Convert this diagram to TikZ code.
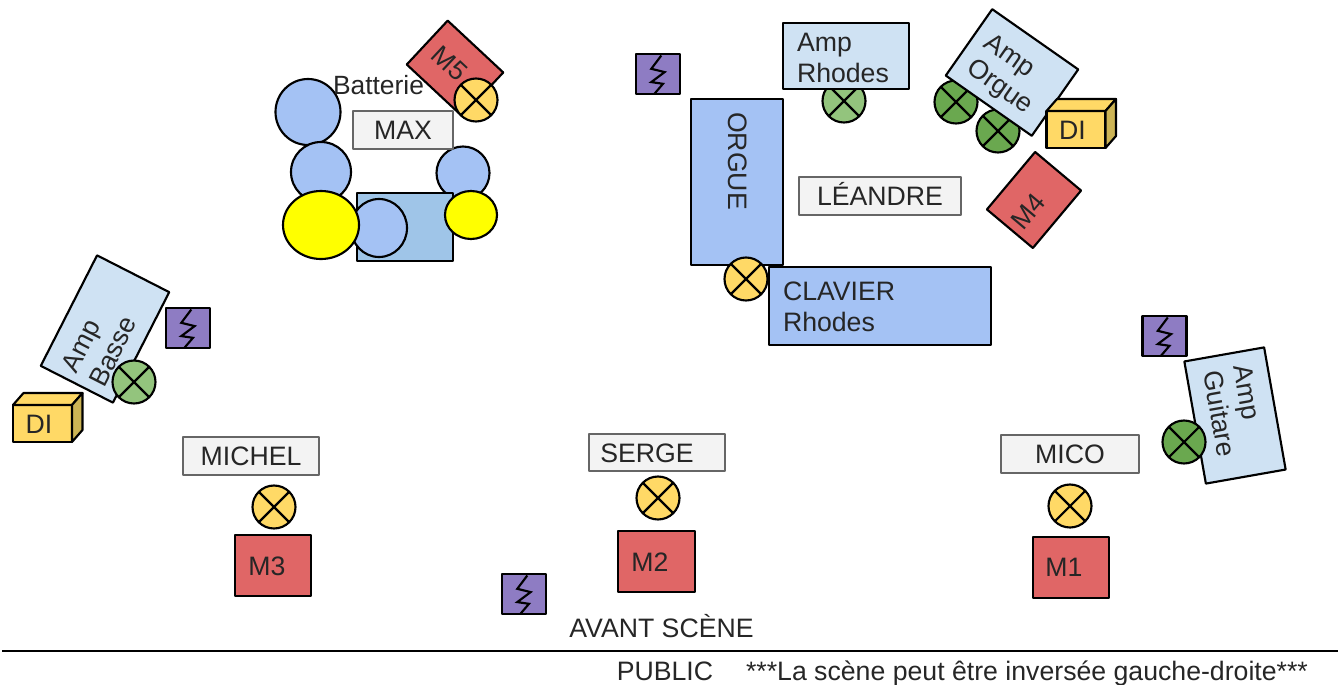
\documentclass[tikz,border=0pt]{standalone}
\usepackage{fontspec}
\setmainfont{Liberation Sans}
\usetikzlibrary{shapes.geometric}
\definecolor{inkc}{HTML}{262626}
\definecolor{redc}{HTML}{E06666}
\definecolor{purplec}{HTML}{8E7CC3}
\definecolor{bluec}{HTML}{A4C2F4}
\definecolor{ampc}{HTML}{CFE2F3}
\definecolor{drumboxc}{HTML}{9FC5E8}
\definecolor{orangec}{HTML}{FFD966}
\definecolor{lgreenc}{HTML}{93C47D}
\definecolor{dgreenc}{HTML}{6AA84F}
\definecolor{disidec}{HTML}{CCB455}
\definecolor{labelc}{HTML}{F3F3F3}
\definecolor{labeledge}{HTML}{666666}
\definecolor{cymbalc}{RGB}{255,255,0}
\tikzset{
  x=0.75pt,y=-0.75pt,
  wh/.style 2 args={minimum width=#1*0.75pt,minimum height=#2*0.75pt},
  base/.style={draw=black,line width=1.6pt,inner sep=0pt,outer sep=0pt,text=inkc,line join=round,
    font=\fontsize{20pt}{23.3pt}\selectfont},
  txt/.style={inner sep=0pt,outer sep=0pt,text=inkc,align=left,font=\fontsize{20pt}{23.3pt}\selectfont},
  captxt/.style={txt,text height=14.3pt,text depth=0pt},
  labelbox/.style={base,draw=labeledge,fill=labelc,text height=14.3pt,text depth=0pt},
  monbox/.style={base,fill=redc},
  ampbox/.style={base,fill=ampc},
  kbbox/.style={base,fill=bluec},
  plugbox/.style={base,fill=purplec,wh={44}{40}},
  drum/.style={base,ellipse,fill=bluec},
  cymbal/.style={base,ellipse,fill=cymbalc},
  mic/.style={base,circle,minimum size=#1*0.75pt},
  mic/.default=43,
  micorange/.style={mic,fill=orangec,xcross},
  miclgreen/.style={mic,fill=lgreenc,xcross},
  micdgreen/.style={mic,fill=dgreenc,xcross},
  xcross/.style={path picture={
    \draw[line width=1.6pt] (path picture bounding box.north west)--(path picture bounding box.south east);
    \draw[line width=1.6pt] (path picture bounding box.north east)--(path picture bounding box.south west);}},
  difront/.style={base,fill=orangec,wh={59}{37}},
  wire/.style={line width=1.6pt,line join=miter},
}
% zigzag drawn inside a named plug box
\newcommand{\zigzag}[1]{\draw[wire] ([shift={(3.3,-18.5)}]#1.center) -- ++(-10,13.3) -- ++(13.3,3.3) -- ++(-13.3,10) -- ++(11.7,1.7) -- ++(-8.3,9.7);}
% DI box: #1 node name, #2 centre of front face
\newcommand{\dibox}[2]{%
  \node[difront] (#1) at (#2) {};
  \draw[base,fill=orangec] (#1.north west) -- ++(10.5,-12) -- ++(59,0) -- (#1.north east) -- cycle;
  \draw[base,fill=disidec] (#1.north east) -- ++(10.5,-12) -- ++(0,37) -- (#1.south east) -- cycle;
  \node[captxt] (#1txt) at ([xshift=-2.6pt]#1.center) {DI};
}
\begin{document}
\begin{tikzpicture}
\useasboundingbox (0,0) rectangle (1340,685);

% drum kit
\node[drum,wh={65}{66}] (tomA) at (308,112) {};
\node[drum,wh={60}{60}] (tomB) at (321,172) {};
\node[drum,wh={53}{53}] (tomC) at (463,173) {};
\node[base,fill=drumboxc,wh={96}{68}] (drumbox) at (405,227) {};
\node[drum,wh={56}{58}] (tomD) at (379,228) {};
\node[cymbal,wh={76}{68}] (cymA) at (321,225) {};
\node[cymbal,wh={52}{48}] (cymB) at (471,215) {};
\node[txt,font=\fontsize{19.8pt}{23.3pt}\selectfont] (batterie) at (378.5,85) {Batterie};
\node[monbox,wh={76}{60},rotate=-43] (m5) at (455,68.5) {};
\node[captxt,rotate=-43] (m5txt) at (450,63) {M5};
\node[micorange] (micfive) at (476,100) {};
\node[labelbox,wh={100}{38}] (max) at (403,130) {MAX};

% plugs
\node[plugbox] (plugA) at (658,74) {}; \zigzag{plugA}
\node[plugbox] (plugB) at (188,328) {}; \zigzag{plugB}
\node[plugbox] (plugC) at (1164.5,336) {}; \zigzag{plugC}
\node[plugbox] (plugD) at (524,594) {}; \zigzag{plugD}

% keyboards
\node[kbbox,wh={92}{166}] (orgue) at (737,182) {};
\node[captxt,rotate=-90] (orguetxt) at (738,161) {ORGUE};
\node[kbbox,wh={222}{78}] (clavier) at (880,306) {};
\node[txt,anchor=west] (claviertxt) at (783,306.5) {CLAVIER\\Rhodes};
\node[micorange] (micclavier) at (746,279) {};
\node[labelbox,wh={162}{38}] (leandre) at (880,196) {LÉANDRE};

% amp rhodes
\node[miclgreen] (micrhodes) at (844,101) {};
\node[ampbox,wh={126}{66}] (amprhodes) at (846,56) {};
\node[txt,anchor=west] (amprhodestxt) at (797,57.5) {Amp\\Rhodes};

% amp orgue
\node[micdgreen] (micorgA) at (956,102) {};
\node[micdgreen] (micorgB) at (998,131) {};
\node[ampbox,wh={105}{81},rotate=-35] (amporgue) at (1012,72.5) {};
\node[txt,rotate=-35] (amporguetxt) at (1008,75) {Amp\\Orgue};
\dibox{diright}{1076,129.5}
\node[monbox,wh={75}{60},rotate=50] (m4) at (1034,200) {};
\node[captxt,rotate=50] (m4txt) at (1028,211) {M4};

% amp basse
\node[ampbox,wh={124}{81},rotate=63] (ampbasse) at (105,329) {};
\node[txt,rotate=63] (ampbassetxt) at (99,344) {Amp\\Basse};
\node[miclgreen] (micbasse) at (134,382) {};
\dibox{dileft}{42.5,423.5}

% amp guitare
\node[ampbox,wh={124}{81},rotate=-80] (ampguitare) at (1235,415.5) {};
\node[txt,rotate=-80] (ampguitaretxt) at (1235,411) {Amp\\Guitare};
\node[micdgreen] (micguitare) at (1184,442) {};

% singers
\node[labelbox,wh={136}{38}] (michel) at (251,456) {MICHEL};
\node[labelbox,wh={136}{37}] (serge) at (657,452.5) {SERGE\kern15pt};
\node[labelbox,wh={138}{38}] (mico) at (1070,454) {MICO};
\node[micorange] (micmichel) at (274,507) {};
\node[micorange] (micserge) at (658,498) {};
\node[micorange] (micmico) at (1070,506) {};
\node[monbox,wh={76}{61}] (m3) at (273,565.5) {};
\node[captxt] (m3txt) at (267,565.5) {M3};
\node[monbox,wh={77}{61}] (m2) at (656.5,561.5) {};
\node[captxt] (m2txt) at (650,562) {M2};
\node[monbox,wh={76}{61}] (m1) at (1071,567.5) {};
\node[captxt] (m1txt) at (1064,567) {M1};

% front of stage
\node[captxt] (avant) at (661.5,628) {AVANT SCÈNE};
\coordinate (lineL) at (2,651);
\coordinate (lineR) at (1338,651);
\draw[line width=1.5pt,black] (lineL) -- (lineR);
\node[txt,anchor=base] (public) at (665,680) {PUBLIC};
\node[txt,anchor=base] (note) at (1027,680) {***La scène peut être inversée gauche-droite***};
\end{tikzpicture}
\end{document}
